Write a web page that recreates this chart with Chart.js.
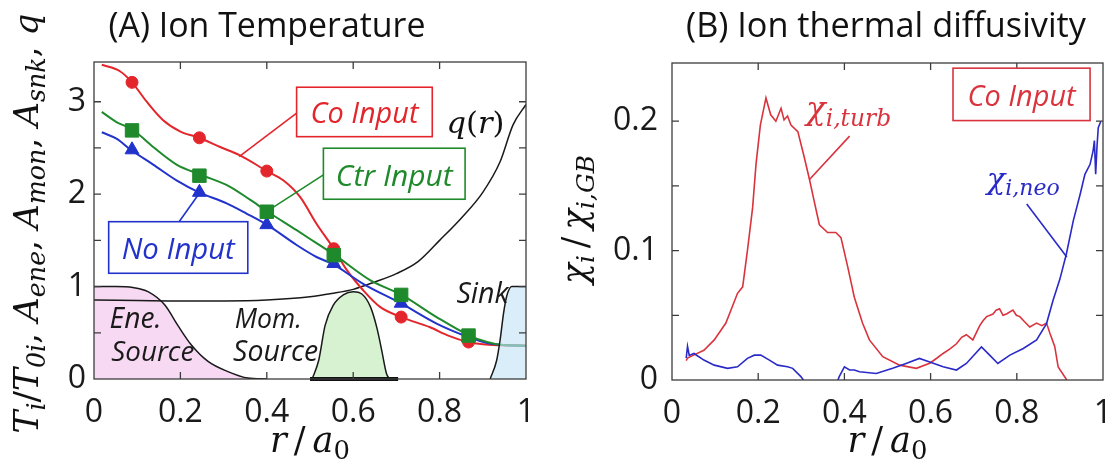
<!DOCTYPE html>
<html><head><meta charset="utf-8">
<script src="https://cdn.jsdelivr.net/npm/chart.js@4.4.1/dist/chart.umd.min.js"></script>
<style>
html,body{margin:0;padding:0;background:#fff;}
body{width:1111px;height:472px;overflow:hidden;position:relative;}
canvas{position:absolute;top:0;}
#ca{left:0;} #cb{left:545px;}
</style></head><body>
<canvas id="ca" width="545" height="472"></canvas>
<canvas id="cb" width="566" height="472"></canvas>
<script>
// ---------- Panel A data (r/a0, value) ----------
const rCo   = [0.018,0.06,0.088,0.122,0.16,0.199,0.243,0.292,0.338,0.40,0.438,0.477,0.515,0.555,0.585,0.623,0.662,0.711,0.778,0.82,0.866,0.90,0.94,1.0];
const tiCo  = [3.40,3.33,3.21,3.00,2.80,2.68,2.61,2.51,2.42,2.25,2.15,1.97,1.68,1.41,1.18,0.96,0.78,0.67,0.56,0.47,0.40,0.375,0.365,0.36];
const rCtr  = [0.018,0.052,0.089,0.137,0.191,0.247,0.315,0.361,0.402,0.469,0.515,0.558,0.639,0.712,0.793,0.869,0.91,0.94,1.0];
const tiCtr = [2.89,2.78,2.70,2.51,2.32,2.21,2.08,1.94,1.81,1.61,1.47,1.34,1.07,0.91,0.67,0.47,0.40,0.37,0.36];
const rNo   = [0.018,0.052,0.085,0.137,0.191,0.243,0.307,0.353,0.40,0.469,0.515,0.554,0.623,0.71,0.793,0.869,0.91,0.94,1.0];
const tiNo  = [2.67,2.60,2.48,2.32,2.15,2.02,1.90,1.79,1.67,1.45,1.32,1.24,1.03,0.82,0.60,0.45,0.39,0.37,0.36];
const rMark   = [0.088,0.244,0.40,0.555,0.711,0.867];
const coMark  = [3.21,2.61,2.25,1.41,0.67,0.40];
const ctrMark = [2.69,2.20,1.81,1.34,0.91,0.47];
const noMark  = [2.48,2.02,1.67,1.25,0.82,0.45];
const rQ = [0,0.1,0.2,0.3,0.4,0.5,0.55,0.6,0.65,0.7,0.75,0.8,0.85,0.9,0.94,0.97,1.0];
const qv = [0.855,0.85,0.845,0.845,0.855,0.89,0.925,0.97,1.05,1.14,1.27,1.50,1.74,2.02,2.35,2.75,2.97];
const rEne = [0,0.05,0.09,0.125,0.164,0.194,0.225,0.264,0.31,0.356,0.40];
const ene  = [1.0,1.0,0.99,0.945,0.80,0.58,0.37,0.19,0.08,0.01,0.0];
const rMom = [0.505,0.52,0.535,0.554,0.577,0.60,0.62,0.64,0.655,0.666,0.677,0.684];
const mom  = [0,0.2,0.58,0.80,0.91,0.945,0.92,0.78,0.55,0.31,0.06,0];
const rMomBase = [0.50,0.704];
const momBase  = [0,0];
const rSnk = [0.917,0.932,0.94,0.948,0.955,0.967,0.98,1.0];
const snk  = [0,0.2,0.42,0.71,0.89,1.0,1.0,1.0];
const xTickVals = [0,0.2,0.4,0.6,0.8,1];
const yTickLabelsA = ['0','1','2','3'];
const yTickLabelsB = ['0','0.1','0.2'];

// ---------- Panel B data ----------
const rTurb = [0.033,0.036,0.055,0.074,0.098,0.125,0.152,0.164,0.175,0.187,0.195,0.205,0.218,0.229,0.241,0.253,0.260,0.268,0.276,0.292,0.307,0.319,0.330,0.342,0.361,0.380,0.392,0.408,0.423,0.442,0.458,0.489,0.528,0.567,0.598,0.615,0.629,0.645,0.660,0.672,0.683,0.698,0.714,0.722,0.730,0.745,0.752,0.760,0.768,0.776,0.791,0.799,0.807,0.818,0.830,0.846,0.858,0.869,0.877,0.888,0.896,0.916];
const turb  = [0.015,0.017,0.020,0.023,0.031,0.044,0.067,0.072,0.100,0.133,0.167,0.197,0.218,0.205,0.200,0.210,0.201,0.204,0.197,0.192,0.172,0.155,0.138,0.120,0.114,0.114,0.110,0.087,0.064,0.044,0.031,0.018,0.0115,0.009,0.013,0.017,0.0205,0.024,0.028,0.033,0.035,0.031,0.042,0.046,0.049,0.051,0.054,0.055,0.050,0.051,0.054,0.050,0.049,0.045,0.041,0.044,0.042,0.044,0.036,0.026,0.010,0.0];
const rNeo = [0.033,0.036,0.040,0.051,0.074,0.098,0.129,0.152,0.175,0.191,0.206,0.226,0.245,0.268,0.280,0.299,0.305,0.345,0.385,0.388,0.400,0.412,0.423,0.435,0.474,0.512,0.543,0.574,0.598,0.629,0.660,0.683,0.718,0.737,0.756,0.784,0.815,0.846,0.869,0.884,0.900,0.915,0.931,0.947,0.958,0.970,0.977,0.980,0.983,0.986,0.989,0.995];
const neo  = [0.017,0.026,0.019,0.0205,0.0154,0.0115,0.009,0.0102,0.0167,0.0192,0.0192,0.0154,0.0115,0.0102,0.009,0.0026,0,null,0,0.0026,0.0102,0.0077,0.0077,0.0064,0.005,0.009,0.0128,0.0167,0.014,0.0102,0.0077,0.0128,0.0256,0.0192,0.0128,0.0192,0.0244,0.031,0.0436,0.0615,0.078,0.0974,0.123,0.1436,0.159,0.1667,0.177,0.185,0.159,0.18,0.195,0.20];

const RED='#e3262c', GREEN='#1f8a2c', BLUE='#2233cc', RED_B='#d9333d', BLUE_B='#2a2ac8';
const xy = (xs, ys) => xs.map((v,i) => ({x:v, y:ys[i]}));

// ---------- text helpers ----------
function fontOf(p, s, fam, sc){ return (p.up ? '' : 'italic ') + (p.sub ? s*sc : s).toFixed(2) + 'px ' + (p.fam || fam); }
function drawRich(ctx, parts, o){
  const sc = o.subScale || 0.74;
  const measure = s => parts.reduce((w,p)=>{ ctx.font = fontOf(p,s,o.family,sc); return w + ctx.measureText(p.t).width; },0);
  let size = o.size;
  if (o.width) size = size * o.width / measure(size);
  const total = measure(size);
  ctx.save();
  ctx.translate(o.x, o.y);
  if (o.rotate) ctx.rotate(o.rotate);
  ctx.fillStyle = o.color || '#111';
  ctx.textBaseline = 'alphabetic'; ctx.textAlign = 'left';
  let cx = o.align === 'left' ? 0 : -total/2;
  parts.forEach(p => { ctx.font = fontOf(p,size,o.family,sc); ctx.fillText(p.t, cx, p.sub ? size*0.2 : 0); cx += ctx.measureText(p.t).width; });
  ctx.restore();
}
const SERIF = '"DejaVu Serif", "Liberation Serif", serif';
const SANS = '"Open Sans", "Noto Sans", sans-serif';
const TH = '\u2009';

// plugin: frame + inner ticks on four sides
function framePlugin(xT, yT){
  return { id:'frame', afterDatasetsDraw(chart){
    const {ctx, chartArea:a, scales:{x,y}} = chart;
    ctx.save();
    ctx.strokeStyle = '#3c3c3c'; ctx.lineWidth = 1.3;
    ctx.strokeRect(a.left, a.top, a.right-a.left, a.bottom-a.top);
    const L = 7;
    ctx.beginPath();
    xT.forEach(v => { const p = x.getPixelForValue(v); ctx.moveTo(p,a.bottom); ctx.lineTo(p,a.bottom-L); ctx.moveTo(p,a.top); ctx.lineTo(p,a.top+L); });
    yT.forEach(v => { const p = y.getPixelForValue(v); ctx.moveTo(a.left,p); ctx.lineTo(a.left+L,p); ctx.moveTo(a.right,p); ctx.lineTo(a.right-L,p); });
    ctx.stroke();
    ctx.restore();
  }};
}
// plugin: annotations (data coordinates) and titles
function annoPlugin(items, extras){
  return { id:'anno', afterDraw(chart){
    const {ctx, chartArea:a, scales:{x,y}} = chart;
    const X = v => x.getPixelForValue(v), Y = v => y.getPixelForValue(v);
    ctx.save();
    items.forEach(it => {
      if (it.type === 'box'){
        ctx.fillStyle = '#fff'; ctx.strokeStyle = it.color; ctx.lineWidth = 1.6;
        const x0 = X(it.x0), x1 = X(it.x1), y0 = Y(it.y0), y1 = Y(it.y1);
        ctx.fillRect(x0,y0,x1-x0,y1-y0); ctx.strokeRect(x0,y0,x1-x0,y1-y0);
        drawRich(ctx, [{t:it.text}], {x:(x0+x1)/2, y:(y0+y1)/2 + it.tw*0.105, size:26, width:it.tw, family:SANS, color:it.color});
      } else if (it.type === 'line'){
        ctx.strokeStyle = it.color; ctx.lineWidth = 1.6;
        ctx.beginPath(); ctx.moveTo(X(it.x0),Y(it.y0)); ctx.lineTo(X(it.x1),Y(it.y1)); ctx.stroke();
      } else if (it.type === 'text'){
        drawRich(ctx, it.parts, {x:X(it.x), y:Y(it.y), size:26, width:it.w, family:it.fam || SANS, color:it.color, align:'left', subScale:it.sc});
      }
    });
    extras(ctx, a);
    ctx.restore();
  }};
}

function axisCfg(min, max, step, labelFn, pad, isY, fitSize){
  return {
    type:'linear', min, max,
    ticks:{ stepSize:step, autoSkip:false, maxRotation:0, padding:pad, color:'#1a1a1a',
      font:{family:'Open Sans', size:32}, callback:labelFn },
    grid:{ display:false, drawTicks:false },
    border:{ display:false },
    afterFit(s){ if (isY){ s.width = fitSize; s.paddingTop = 0; s.paddingBottom = 0; } else { s.height = fitSize; s.paddingLeft = 0; s.paddingRight = 0; } }
  };
}
const near = (v, arr) => arr.find(t => Math.abs(parseFloat(t) - v) < 1e-6);
const xLabel = v => { const t = near(v, xTickVals.map(String)); return t === undefined ? '' : String(t); };

const lineDs = (label, data, color, w, order, extra) => Object.assign({label, data, borderColor:color, borderWidth:w, pointRadius:0, fill:false, order}, extra||{});
const markDs = (label, data, color, style, r, order) => ({label, data, showLine:false, pointStyle:style, pointRadius:r, pointBackgroundColor:color, pointBorderColor:color, pointBorderWidth:1, order});
const smooth = {tension:0.4, cubicInterpolationMode:'monotone'};
const rA = [{t:'r'},{t:TH+'/'+TH,up:true},{t:'a'},{t:'0',sub:true,up:true}];

// ---------- Chart A ----------
new Chart(document.getElementById('ca'), {
  type:'line',
  data:{ datasets:[
    lineDs('Sink', xy(rSnk,snk), '#1a1a1a', 1.5, 0, Object.assign({fill:'origin', backgroundColor:'rgba(196,228,246,0.62)'}, smooth)),
    markDs('Ctr Input markers', xy(rMark,ctrMark), GREEN, 'rect', 9.5, 1),
    markDs('No Input markers', xy(rMark,noMark), BLUE, 'triangle', 8, 2),
    markDs('Co Input markers', xy(rMark,coMark), RED, 'circle', 6, 3),
    lineDs('Ctr Input', xy(rCtr,tiCtr), GREEN, 2, 4, smooth),
    lineDs('No Input', xy(rNo,tiNo), BLUE, 2, 5, smooth),
    lineDs('Co Input', xy(rCo,tiCo), RED, 2, 6, smooth),
    lineDs('q(r)', xy(rQ,qv), '#1a1a1a', 1.5, 7, smooth),
    lineDs('Mom. base', xy(rMomBase,momBase), '#111', 4, 8, {clip:false}),
    lineDs('Mom. Source', xy(rMom,mom), '#1a1a1a', 1.5, 9, Object.assign({fill:'origin', backgroundColor:'#d6f2d0'}, smooth)),
    lineDs('Ene. Source', xy(rEne,ene), '#1a1a1a', 1.5, 10, Object.assign({fill:'origin', backgroundColor:'#f7d9f3'}, smooth))
  ]},
  options:{
    responsive:false, animation:false, events:[],
    layout:{ padding:{top:62, right:19, left:0, bottom:0} },
    plugins:{ legend:{display:false}, tooltip:{enabled:false} },
    scales:{
      x: axisCfg(0, 1, 0.2, xLabel, 15, false, 93),
      y: axisCfg(0, 3.43, 0.5, v => near(v, yTickLabelsA) || '', 8, true, 94)
    }
  },
  plugins:[ framePlugin([0.2,0.4,0.6,0.8], [0.5,1,1.5,2,2.5,3]),
    annoPlugin([
      {type:'line', x0:0.469, y0:2.876, x1:0.336, y1:2.406, color:RED},
      {type:'line', x0:0.531, y0:2.208, x1:0.411, y1:1.847, color:GREEN},
      {type:'line', x0:0.197, y0:1.702, x1:0.241, y1:1.991, color:BLUE},
      {type:'box', x0:0.469, y0:3.157, x1:0.783, y1:2.622, color:RED, text:'Co Input', tw:108},
      {type:'box', x0:0.531, y0:2.497, x1:0.859, y1:1.945, color:GREEN, text:'Ctr Input', tw:117},
      {type:'box', x0:0.034, y0:1.702, x1:0.356, y1:1.144, color:BLUE, text:'No Input', tw:113},
      {type:'text', x:0.816, y:2.66, w:58, fam:SERIF, color:'#111', parts:[{t:'q'},{t:'(',up:true},{t:'r'},{t:')',up:true}]},
      {type:'text', x:0.839, y:0.82, w:52, color:'#1a1a1a', parts:[{t:'Sink'}]},
      {type:'text', x:0.036, y:0.55, w:52, color:'#1a1a1a', parts:[{t:'Ene.'}]},
      {type:'text', x:0.040, y:0.195, w:83, color:'#1a1a1a', parts:[{t:'Source'}]},
      {type:'text', x:0.326, y:0.55, w:67, color:'#1a1a1a', parts:[{t:'Mom.'}]},
      {type:'text', x:0.322, y:0.195, w:85, color:'#1a1a1a', parts:[{t:'Source'}]}
    ], (ctx, a) => {
      drawRich(ctx, [{t:'(A) Ion Temperature', up:true}], {x:267, y:37, size:34, width:317, family:SANS, color:'#111'});
      drawRich(ctx, rA, {x:(a.left+a.right)/2, y:452, size:35, family:SERIF, color:'#111'});
      drawRich(ctx, [{t:'T'},{t:'i',sub:true},{t:'/',up:true},{t:'T'},{t:'0i',sub:true},{t:', ',up:true},{t:'A'},{t:'ene',sub:true},{t:', ',up:true},{t:'A'},{t:'mon',sub:true},{t:', ',up:true},{t:'A'},{t:'snk',sub:true},{t:', ',up:true},{t:'q'}],
        {x:38, y:(a.top+a.bottom)/2 + 3, size:34, width:420, family:SERIF, color:'#111', rotate:-Math.PI/2});
    })
  ]
});

// ---------- Chart B ----------
new Chart(document.getElementById('cb'), {
  type:'line',
  data:{ datasets:[
    lineDs('χi,neo', xy(rNeo,neo), BLUE_B, 1.6, 0, {tension:0, spanGaps:false}),
    lineDs('χi,turb', xy(rTurb,turb), RED_B, 1.6, 1, {tension:0})
  ]},
  options:{
    responsive:false, animation:false, events:[],
    layout:{ padding:{top:63, right:8, left:0, bottom:0} },
    plugins:{ legend:{display:false}, tooltip:{enabled:false} },
    scales:{
      x: axisCfg(0, 1, 0.2, xLabel, 15, false, 92),
      y: axisCfg(0, 0.245, 0.05, v => near(v, yTickLabelsB) || '', 14, true, 127)
    }
  },
  plugins:[ framePlugin([0.2,0.4,0.6,0.8], [0.05,0.1,0.15,0.2]),
    annoPlugin([
      {type:'line', x0:0.412, y0:0.1885, x1:0.319, y1:0.155, color:RED_B},
      {type:'line', x0:0.823, y0:0.136, x1:0.916, y1:0.095, color:BLUE_B},
      {type:'box', x0:0.652, y0:0.241, x1:0.970, y1:0.2005, color:RED_B, text:'Co Input', tw:108},
      {type:'text', x:0.311, y:0.2015, w:85, fam:SERIF, color:RED_B, sc:0.72, parts:[{t:'χ'},{t:'i,turb',sub:true}]},
      {type:'text', x:0.730, y:0.148, w:73, fam:SERIF, color:BLUE_B, sc:0.72, parts:[{t:'χ'},{t:'i,neo',sub:true}]}
    ], (ctx, a) => {
      drawRich(ctx, [{t:'(B) Ion thermal diffusivity', up:true}], {x:341, y:37, size:34, width:400, family:SANS, color:'#111'});
      drawRich(ctx, rA, {x:(a.left+a.right)/2, y:452, size:35, family:SERIF, color:'#111'});
      drawRich(ctx, [{t:'χ'},{t:'i',sub:true},{t:TH+'/'+TH,up:true},{t:'χ'},{t:'i,GB',sub:true}],
        {x:a.left-85, y:(a.top+a.bottom)/2 - 2, size:30, width:129, family:SERIF, color:'#111', rotate:-Math.PI/2, subScale:0.72});
    })
  ]
});
</script>
</body></html>
